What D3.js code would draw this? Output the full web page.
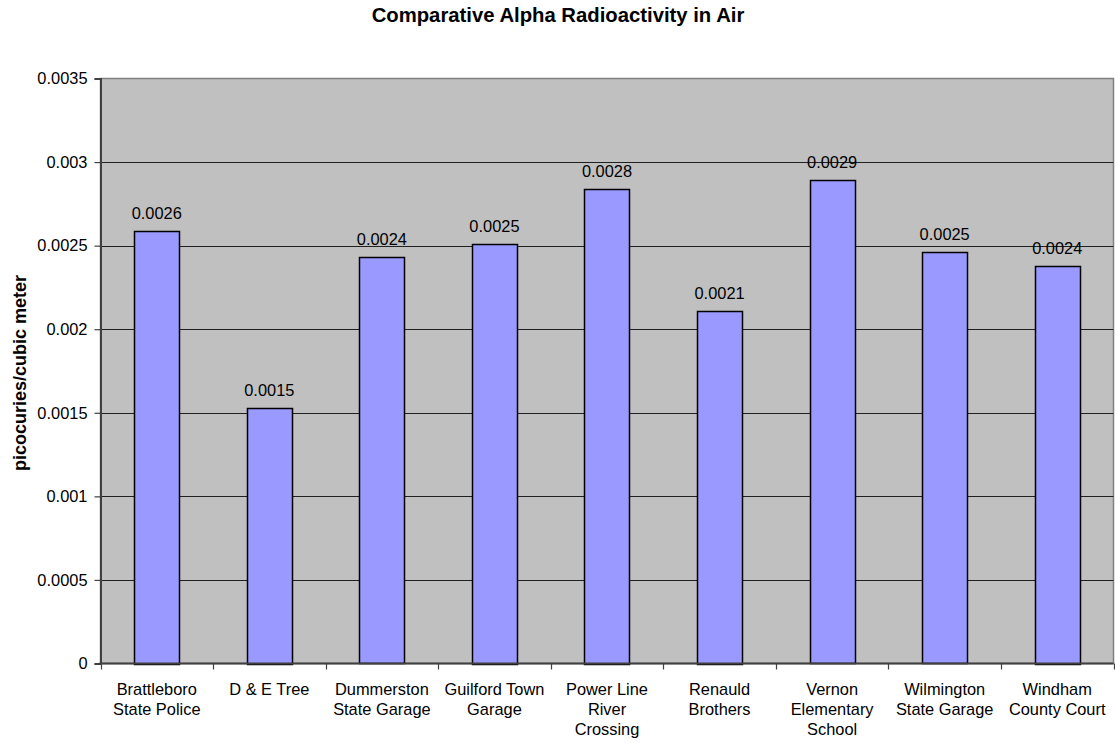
<!DOCTYPE html>
<html>
<head>
<meta charset="utf-8">
<script src="https://cdn.jsdelivr.net/npm/d3@7"></script>
<style>
  body { margin: 0; background: #fff; }
  text { font-family: "Liberation Sans", Arial, sans-serif; fill: #000; }
</style>
</head>
<body>
<svg id="chart" width="1115" height="743"></svg>
<script>
const title = "Comparative Alpha Radioactivity in Air";
const yAxisTitle = "picocuries/cubic meter";
const categories = [
  ["Brattleboro", "State Police"],
  ["D & E Tree"],
  ["Dummerston", "State Garage"],
  ["Guilford Town", "Garage"],
  ["Power Line", "River", "Crossing"],
  ["Renauld", "Brothers"],
  ["Vernon", "Elementary", "School"],
  ["Wilmington", "State Garage"],
  ["Windham", "County Court"]
];
const values = [0.00259, 0.00153, 0.00243, 0.00251, 0.00284, 0.00211, 0.00289, 0.00246, 0.00238];
const yTicks = [0, 0.0005, 0.001, 0.0015, 0.002, 0.0025, 0.003, 0.0035];
const yTickLabels = ["0", "0.0005", "0.001", "0.0015", "0.002", "0.0025", "0.003", "0.0035"];

const svg = d3.select("#chart");
const pL = 100.5, pR = 1113.5, pT = 78.5, pB = 663.5;
const FS = 16.4;

const x = d3.scaleBand()
  .domain(d3.range(categories.length))
  .range([pL, pR])
  .paddingInner(0.6)
  .paddingOuter(0.3);
const y = d3.scaleLinear().domain([0, 0.0035]).range([pB, pT]);

// plot background
svg.append("rect")
  .attr("x", pL).attr("y", pT)
  .attr("width", pR - pL).attr("height", pB - pT)
  .attr("fill", "#c0c0c0")
  .attr("stroke", "#808080").attr("stroke-width", 1.5);

// gridlines
svg.append("g").selectAll("line")
  .data(yTicks.filter(d => d > 0 && d < 0.0035))
  .join("line")
  .attr("x1", pL).attr("x2", pR)
  .attr("y1", d => Math.round(y(d)) + 0.5)
  .attr("y2", d => Math.round(y(d)) + 0.5)
  .attr("stroke", "#202020").attr("stroke-width", 1);

// bars
svg.append("g").selectAll("rect")
  .data(values)
  .join("rect")
  .attr("x", (d, i) => Math.round(x(i)) + 0.5)
  .attr("y", d => Math.round(y(d)) + 0.5)
  .attr("width", Math.round(x.bandwidth()))
  .attr("height", d => Math.round(pB - y(d)))
  .attr("fill", "#9999ff")
  .attr("stroke", "#000").attr("stroke-width", 1.5);

// value labels
svg.append("g").selectAll("text")
  .data(values)
  .join("text")
  .attr("x", (d, i) => x(i) + x.bandwidth() / 2)
  .attr("y", d => y(d) - 12)
  .attr("text-anchor", "middle")
  .attr("font-size", FS)
  .text(d => d.toFixed(4));

// y axis
const yAxis = d3.axisLeft(y)
  .tickValues(yTicks)
  .tickFormat((d, i) => yTickLabels[i])
  .tickSize(6)
  .tickPadding(7);
const gy = svg.append("g").attr("transform", `translate(${pL},0)`).call(yAxis);
gy.select(".domain").attr("stroke", "#404040").attr("stroke-width", 2);
gy.selectAll(".tick line").attr("stroke", "#404040").attr("stroke-width", 1.2);
gy.selectAll(".tick text").attr("font-size", FS).attr("font-family", "Liberation Sans, Arial, sans-serif").attr("fill", "#000");

// x axis line
svg.append("line")
  .attr("x1", pL - 1).attr("x2", pR)
  .attr("y1", pB).attr("y2", pB)
  .attr("stroke", "#404040").attr("stroke-width", 2);

// x ticks at band boundaries
const boundaries = d3.range(categories.length + 1).map(i => pL + i * (pR - pL) / categories.length);
svg.append("g").selectAll("line")
  .data(boundaries)
  .join("line")
  .attr("x1", d => Math.round(d) + 0.5).attr("x2", d => Math.round(d) + 0.5)
  .attr("y1", pB).attr("y2", pB + 6)
  .attr("stroke", "#404040").attr("stroke-width", 1.2);

// x labels
const xl = svg.append("g").selectAll("text")
  .data(categories)
  .join("text")
  .attr("x", (d, i) => x(i) + x.bandwidth() / 2)
  .attr("y", 695)
  .attr("text-anchor", "middle")
  .attr("font-size", FS);
xl.selectAll("tspan")
  .data(d => d)
  .join("tspan")
  .attr("x", function() { return d3.select(this.parentNode).attr("x"); })
  .attr("dy", (d, i) => i === 0 ? 0 : 20)
  .text(d => d);

// title
svg.append("text")
  .attr("x", 558).attr("y", 22)
  .attr("text-anchor", "middle")
  .attr("font-size", 20.3).attr("font-weight", "bold")
  .text(title);

// y axis title
svg.append("text")
  .attr("transform", `translate(26,${(pT + pB) / 2 + 2}) rotate(-90)`)
  .attr("text-anchor", "middle")
  .attr("font-size", 18).attr("font-weight", "bold")
  .text(yAxisTitle);
</script>
</body>
</html>
